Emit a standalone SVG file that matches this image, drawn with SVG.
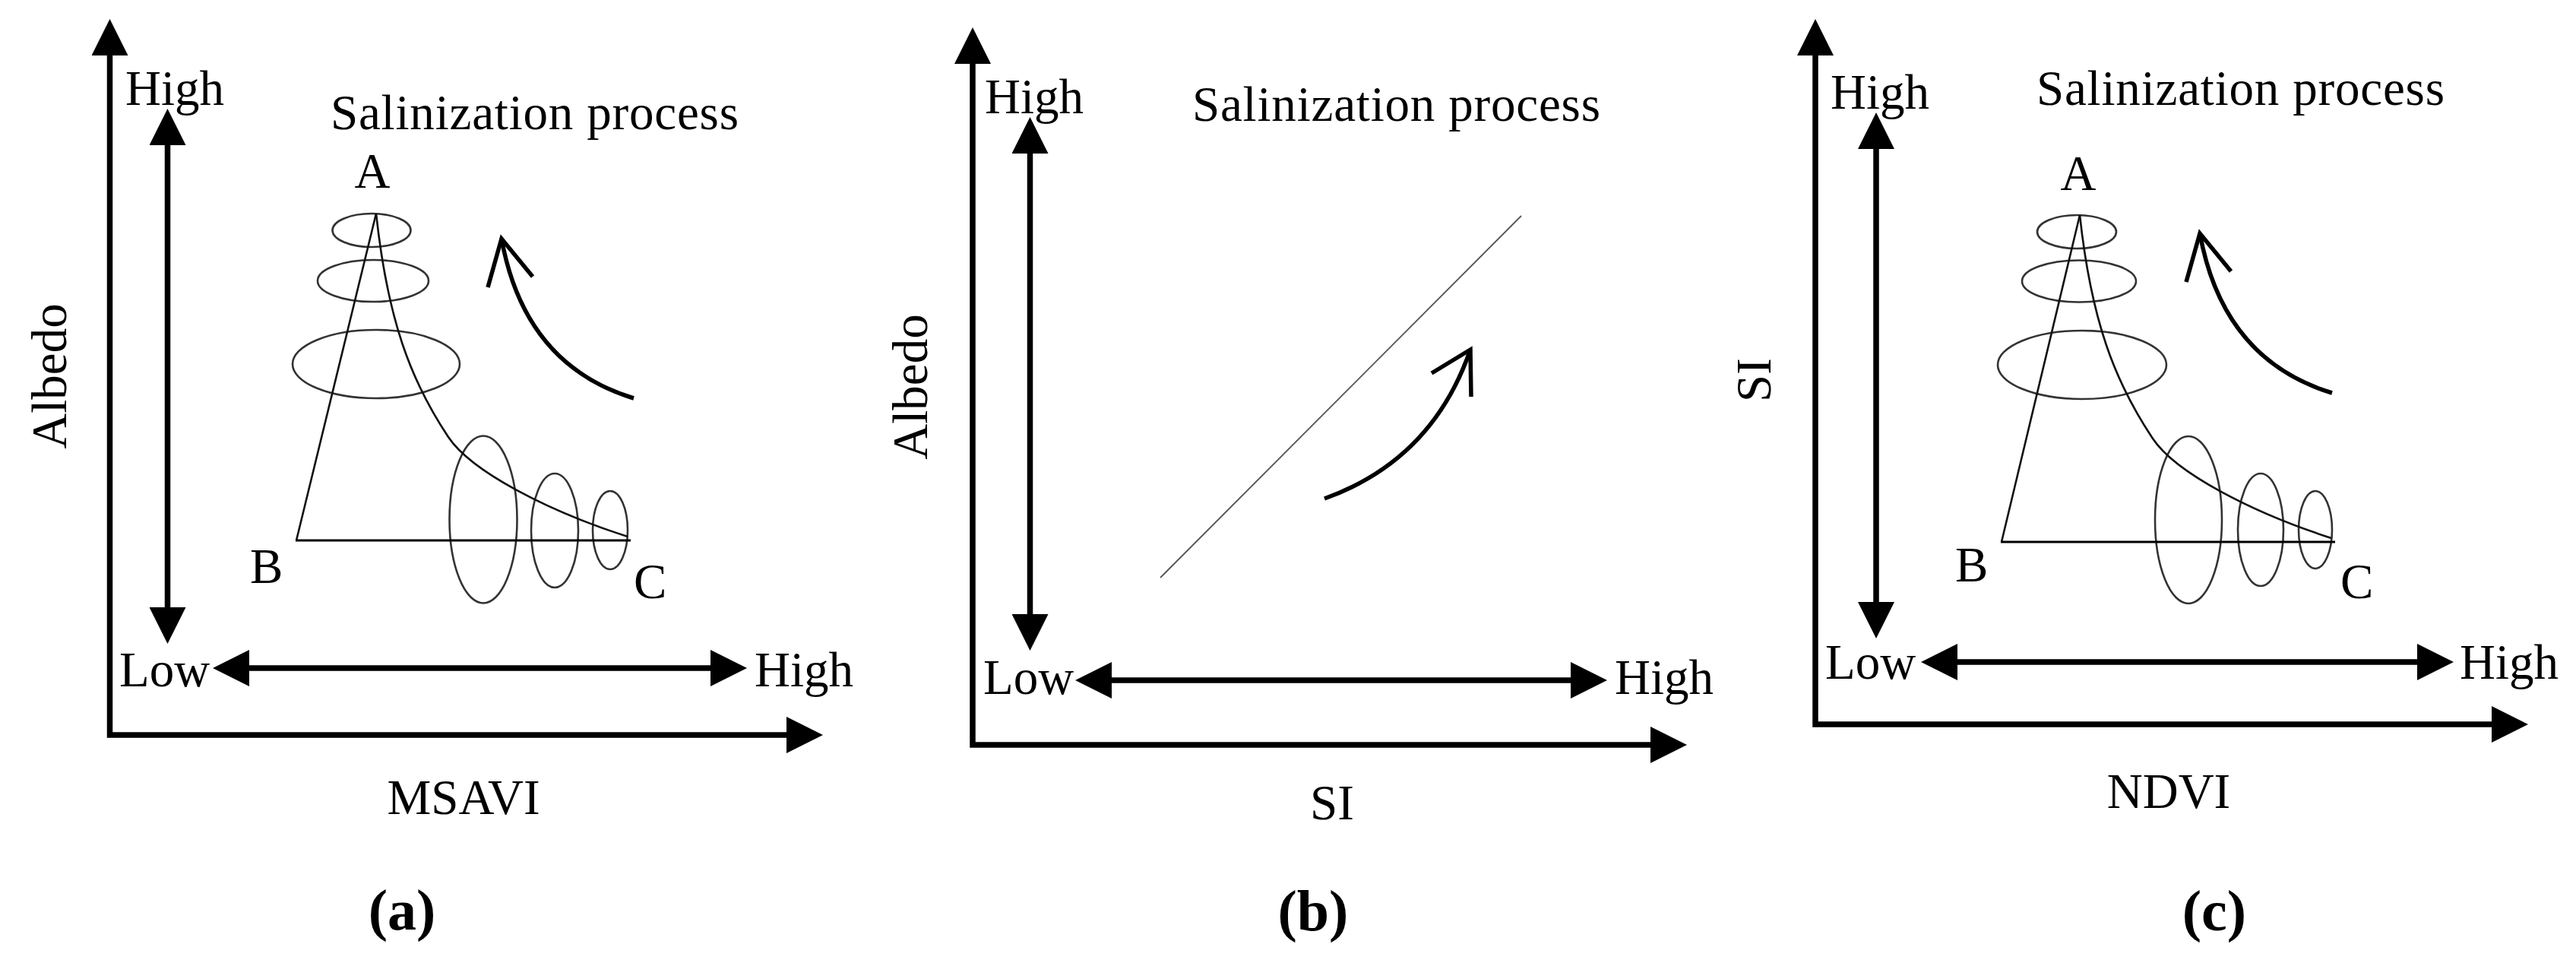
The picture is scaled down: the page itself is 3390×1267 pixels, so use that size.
<svg xmlns="http://www.w3.org/2000/svg" width="3390" height="1267" viewBox="0 0 3390 1267">
<defs>
<style>
.t{font-family:"Liberation Serif","Times New Roman",serif;font-size:65px;fill:#000}
.m{text-anchor:middle}
.cap{font-family:"Liberation Serif","Times New Roman",serif;font-size:76px;font-weight:bold;fill:#000;text-anchor:middle}
.ax{fill:none;stroke:#000;stroke-width:7.5;stroke-linejoin:miter;marker-end:url(#ah)}
.dbl{fill:none;stroke:#000;stroke-width:7.5;marker-start:url(#ah);marker-end:url(#ah)}
.el{fill:none;stroke:#333;stroke-width:2.6}
.ln{fill:none;stroke:#111;stroke-width:2.6}
.base{fill:none;stroke:#000;stroke-width:3}
.diag{fill:none;stroke:#555;stroke-width:1.8}
.cv{fill:none;stroke:#000;stroke-width:5.5}
</style>
<marker id="ah" markerUnits="userSpaceOnUse" markerWidth="48" markerHeight="48" viewBox="0 0 48 48" refX="0" refY="24" orient="auto-start-reverse">
<path d="M0,0 L48,24 L0,48 z" fill="#000"/>
</marker>
</defs>
<rect width="3390" height="1267" fill="#fff"/>

<!-- Panel (a) -->
<g id="panel-a">
  <g id="a-connectors">
    <polyline class="ax" points="144.5,73 144.5,967 1035,967" style="marker-start:url(#ah)"/>
    <line class="dbl" x1="220.5" y1="191" x2="220.5" y2="799"/>
    <line class="dbl" x1="328" y1="879" x2="935" y2="879"/>
    <path class="cv" d="M834,524 Q690,480 660,314"/>
    <polyline class="cv" points="642,378 660,314 701,364"/>
  </g>
  <g id="a-shape">
    <ellipse class="el" cx="489" cy="303" rx="51.5" ry="22"/>
    <ellipse class="el" cx="491" cy="369.5" rx="73" ry="27.5"/>
    <ellipse class="el" cx="495" cy="479" rx="110" ry="45"/>
    <ellipse class="el" cx="636" cy="683.5" rx="44.5" ry="110"/>
    <ellipse class="el" cx="730" cy="698" rx="31" ry="75"/>
    <ellipse class="el" cx="803" cy="697.5" rx="23" ry="51.5"/>
    <line class="ln" x1="495" y1="281" x2="390" y2="711"/>
    <path class="ln" d="M495,281 C510,420 540,500 590,575 C620,620 720,672 826,706"/>
    <line class="base" x1="389" y1="711" x2="830" y2="711"/>
  </g>
  <g id="a-labels">
    <text class="t" x="165" y="138">High</text>
    <text class="t" x="435" y="170" textLength="537" lengthAdjust="spacing">Salinization process</text>
    <text class="t m" x="490" y="247">A</text>
    <text class="t" x="329" y="767">B</text>
    <text class="t" x="834" y="787">C</text>
    <text class="t" x="157" y="903">Low</text>
    <text class="t" x="993" y="903">High</text>
    <text class="t m" x="610" y="1071">MSAVI</text>
    <text class="t m" transform="translate(87,495) rotate(-90)">Albedo</text>
    <text class="cap" x="529" y="1223">(a)</text>
  </g>
</g>

<!-- Panel (b) -->
<g id="panel-b">
  <g id="b-connectors">
    <polyline class="ax" points="1280,84 1280,980 2172,980" style="marker-start:url(#ah)"/>
    <line class="dbl" x1="1355.5" y1="202" x2="1355.5" y2="808"/>
    <line class="dbl" x1="1463" y1="895" x2="2067" y2="895"/>
    <line class="diag" x1="1527" y1="760" x2="2002" y2="284"/>
    <path class="cv" d="M1743,656 Q1885,605 1935,460"/>
    <polyline class="cv" points="1884,491 1935,460 1936,522"/>
  </g>
  <g id="b-labels">
    <text class="t" x="1296" y="149">High</text>
    <text class="t" x="1569" y="159" textLength="537" lengthAdjust="spacing">Salinization process</text>
    <text class="t" x="1294" y="913">Low</text>
    <text class="t" x="2125" y="913">High</text>
    <text class="t m" x="1753" y="1078">SI</text>
    <text class="t m" transform="translate(1220,509) rotate(-90)">Albedo</text>
    <text class="cap" x="1728" y="1224">(b)</text>
  </g>
</g>

<!-- Panel (c) -->
<g id="panel-c">
  <g id="c-connectors">
    <polyline class="ax" points="2389,73 2389,953 3279,953" style="marker-start:url(#ah)"/>
    <line class="dbl" x1="2469" y1="196" x2="2469" y2="792"/>
    <line class="dbl" x1="2576" y1="871" x2="3181" y2="871"/>
    <path class="cv" d="M3069,517 Q2925,473 2895,307"/>
    <polyline class="cv" points="2877,371 2895,307 2936,357"/>
  </g>
  <g id="c-shape">
    <ellipse class="el" cx="2733" cy="305" rx="52" ry="22"/>
    <ellipse class="el" cx="2736" cy="370" rx="75" ry="27.5"/>
    <ellipse class="el" cx="2740" cy="480" rx="111" ry="45"/>
    <ellipse class="el" cx="2880" cy="684" rx="44" ry="110"/>
    <ellipse class="el" cx="2975" cy="697" rx="30" ry="74"/>
    <ellipse class="el" cx="3047" cy="697" rx="22" ry="51"/>
    <line class="ln" x1="2737" y1="283" x2="2634" y2="713"/>
    <path class="ln" d="M2737,283 C2752,422 2783,502 2833,577 C2863,622 2963,674 3068,708"/>
    <line class="base" x1="2633" y1="713" x2="3073" y2="713"/>
  </g>
  <g id="c-labels">
    <text class="t" x="2409" y="143">High</text>
    <text class="t" x="2680" y="138" textLength="537" lengthAdjust="spacing">Salinization process</text>
    <text class="t m" x="2735" y="250">A</text>
    <text class="t" x="2573" y="765">B</text>
    <text class="t" x="3080" y="787">C</text>
    <text class="t" x="2402" y="893">Low</text>
    <text class="t" x="3237" y="893">High</text>
    <text class="t m" x="2854" y="1063">NDVI</text>
    <text class="t m" transform="translate(2330,500) rotate(-90)">SI</text>
    <text class="cap" x="2914" y="1224">(c)</text>
  </g>
</g>
</svg>
